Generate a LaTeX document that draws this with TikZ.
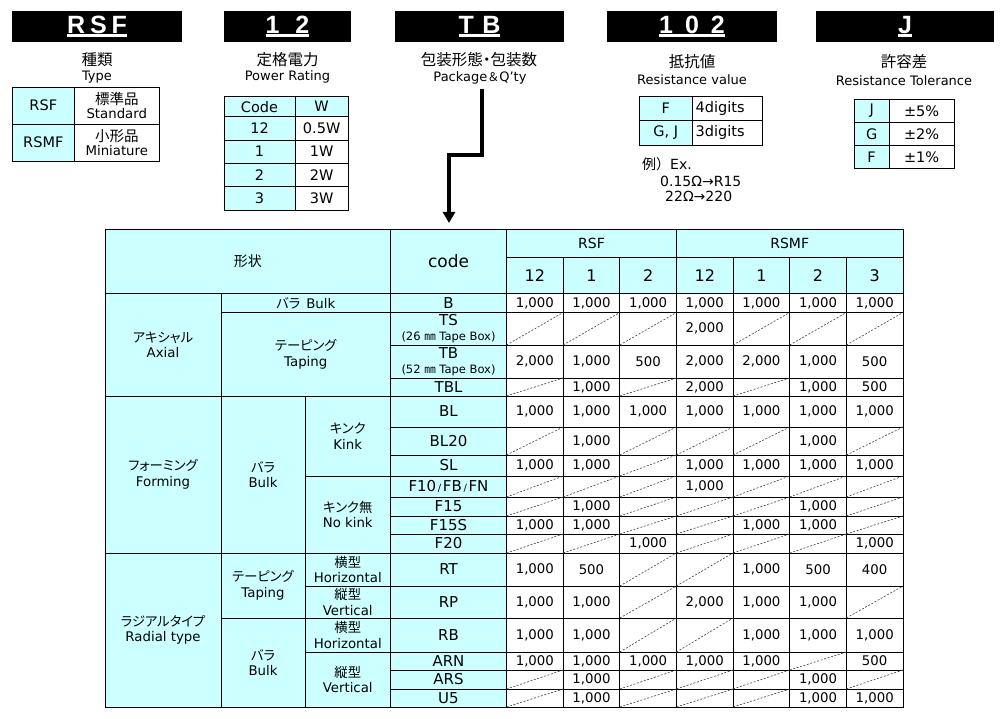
\documentclass[tikz,border=0pt]{standalone}
\usepackage{fontspec}
\setmainfont{DejaVu Sans}
\newfontfamily\jp[RawFeature=+palt]{Noto Sans CJK JP}
\newfontfamily\jpw{Noto Sans CJK JP}
\newfontfamily\hdf{Liberation Sans}
\usetikzlibrary{arrows.meta}
\definecolor{cyanfill}{HTML}{CCFFFF}
\newsavebox\ulbox
\newcommand\wul[1]{\sbox\ulbox{#1}\rlap{\raisebox{-3.2pt}{\rule{\wd\ulbox}{2.2pt}}}\usebox\ulbox}
\newcommand\fs[1]{\fontsize{#1}{#1}\selectfont}
\newcommand\fsl[1]{\fontsize{#1}{15.5}\selectfont}
\newcommand\numfmt[1]{\ifnum#1>999 \the\numexpr#1/1000\relax,000\else#1\fi}
\newcommand\Cell[8]{%
  \draw[gridline, fill=#2] (#3,#4) rectangle (#5,#6);
  \node[celltext, font=#7] (#1) at ({(#3+#5)/2},{(#4+#6)/2}) {#8};
}
\newcommand\DRow[4]{%
  \foreach \val [count=\col] in {#4}{%
    \pgfmathsetmacro\xa{506.5+(\col-1)*56.643}%
    \pgfmathsetmacro\xb{\xa+56.643}%
    \ifnum\val=0
      \draw[gridline, fill=white] (\xa,#2) rectangle (\xb,#3);
      \draw[diag] (\xa,#3) -- (\xb,#2);
    \else
      \Cell{d#1\col}{white}{\xa}{#2}{\xb}{#3}{\fs{13.3}}{\numfmt{\val}}
    \fi
  }%
}
\begin{document}
\begin{tikzpicture}[x=1pt,y=-1pt,
  gridline/.style={draw=black, line width=0.9pt},
  diag/.style={draw=black!75, line width=0.6pt, dash pattern=on 2pt off 1.6pt},
  celltext/.style={inner sep=0pt, align=center},
  hdbox/.style={fill=black, inner sep=0pt, minimum height=31pt, text height=18pt, text depth=4pt, text=white, font=\hdf\bfseries\fs{25}},
  lbljp/.style={inner sep=0pt, font=\jp\fs{15.5}},
  lblen/.style={inner sep=0pt, font=\fs{13}},
  extext/.style={inner sep=0pt, anchor=base west, font=\fs{14}},
  bigarrow/.style={line width=3.3pt, -{Triangle[width=12pt,length=11pt]}}]
\fill[white] (0,0) rectangle (1006,719);
\useasboundingbox (0,0) rectangle (1006,719);

% ---------- black header boxes ----------
\node[hdbox, minimum width=170pt] (bRSF) at (97,26.5) {\wul{R\hspace{5pt}S\hspace{5pt}F}};
\node[hdbox, minimum width=127pt] (b12) at (287.5,26.5) {\wul{1\hspace{16pt}2}};
\node[hdbox, minimum width=169pt] (bTB) at (479.5,26.5) {\wul{T\hspace{8.5pt}B}};
\node[hdbox, minimum width=170pt] (b102) at (692,26.5) {\wul{1\hspace{12pt}0\hspace{12pt}2}};
\node[hdbox, minimum width=178pt] (bJ) at (905,26.5) {\wul{J}};

% ---------- labels ----------
\node[lbljp] (lRSFj) at (97,60) {種類};
\node[lblen] (lRSFe) at (97,77) {Type};
\node[lbljp] (l12j) at (287.5,60) {定格電力};
\node[lblen] (l12e) at (287.5,77) {Power Rating};
\node[lbljp] (lTBj) at (479,60) {包装形態・包装数};
\node[lblen] (lTBe) at (480,78) {Package{\jpw\fs{12}＆}Q’ty};
\node[lbljp] (l102j) at (692,62) {抵抗値};
\node[lblen] (l102e) at (692,80) {Resistance value};
\node[lbljp] (lJj) at (904,62) {許容差};
\node[lblen] (lJe) at (904,81) {Resistance Tolerance};

% ---------- RSF type table ----------
\Cell{tRSF}{cyanfill}{12.3}{87.3}{74.3}{124}{\fs{14.5}}{RSF}
\Cell{tStd}{white}{74.3}{87.3}{159.3}{124}{\fontsize{13.3}{14.5}\selectfont}{{\jp\fs{14.5}標準品}\\Standard}
\Cell{tRSMF}{cyanfill}{12.3}{124}{74.3}{161}{\fs{14.5}}{RSMF}
\Cell{tMin}{white}{74.3}{124}{159.3}{161}{\fontsize{13.3}{14.5}\selectfont}{{\jp\fs{14.5}小形品}\\Miniature}

% ---------- power table ----------
\Cell{pCode}{cyanfill}{224}{96.7}{295}{116.7}{\fs{14.5}}{Code}
\Cell{pW}{cyanfill}{295}{96.7}{348.3}{116.7}{\fs{14.5}}{W}
\Cell{pa}{cyanfill}{224}{116.7}{295}{140}{\fs{14.5}}{12}
\Cell{pav}{white}{295}{116.7}{348.3}{140}{\fs{14.5}}{0.5W}
\Cell{pb}{cyanfill}{224}{140}{295}{163.3}{\fs{14.5}}{1}
\Cell{pbv}{white}{295}{140}{348.3}{163.3}{\fs{14.5}}{1W}
\Cell{pc}{cyanfill}{224}{163.3}{295}{186.7}{\fs{14.5}}{2}
\Cell{pcv}{white}{295}{163.3}{348.3}{186.7}{\fs{14.5}}{2W}
\Cell{pd}{cyanfill}{224}{186.7}{295}{210.7}{\fs{14.5}}{3}
\Cell{pdv}{white}{295}{186.7}{348.3}{210.7}{\fs{14.5}}{3W}

% ---------- resistance table ----------
\Cell{rF}{cyanfill}{639.3}{96}{692.3}{120.7}{\fs{14.5}}{F}
\draw[gridline, fill=white] (692.3,96) rectangle (762.7,120.7);
\node[inner sep=0pt, anchor=west, font=\fs{14.5}] (rFv) at (695.5,108.35) {4digits};
\Cell{rGJ}{cyanfill}{639.3}{120.7}{692.3}{145}{\fs{14.5}}{G, J}
\draw[gridline, fill=white] (692.3,120.7) rectangle (762.7,145);
\node[inner sep=0pt, anchor=west, font=\fs{14.5}] (rGJv) at (695.5,132.85) {3digits};

\node[extext] (exa) at (642,170) {{\jpw 例）}Ex.};
\node[extext] (exb) at (660,187) {0.15Ω→R15};
\node[extext] (exc) at (665,202) {22Ω→220};

% ---------- tolerance table ----------
\Cell{jJ}{cyanfill}{854}{99.3}{889.3}{122.7}{\fs{14.5}}{J}
\Cell{jJv}{white}{889.3}{99.3}{954}{122.7}{\fs{14.5}}{±5\%}
\Cell{jG}{cyanfill}{854}{122.7}{889.3}{145.7}{\fs{14.5}}{G}
\Cell{jGv}{white}{889.3}{122.7}{954}{145.7}{\fs{14.5}}{±2\%}
\Cell{jF}{cyanfill}{854}{145.7}{889.3}{168.3}{\fs{14.5}}{F}
\Cell{jFv}{white}{889.3}{145.7}{954}{168.3}{\fs{14.5}}{±1\%}

% ---------- arrow ----------
\coordinate (astart) at (482,89);
\coordinate (abend) at (449,155);
\coordinate (atip) at (449,223);
\draw[bigarrow] (astart) |- (abend) -- (atip);

% ---------- main table header ----------
\Cell{hShape}{cyanfill}{105}{229}{390.5}{293.5}{\jp\fs{14}}{形状}
\Cell{hCode}{cyanfill}{390.5}{229}{506.5}{293.5}{\fs{17}}{code}
\Cell{hRSF}{cyanfill}{506.5}{229}{676.43}{257}{\fs{14}}{RSF}
\Cell{hRSMF}{cyanfill}{676.43}{229}{903}{257}{\fs{14}}{RSMF}
\foreach \lab [count=\col] in {12,1,2,12,1,2,3}{%
  \pgfmathsetmacro\xa{506.5+(\col-1)*56.643}%
  \pgfmathsetmacro\xb{\xa+56.643}%
  \Cell{hs\col}{cyanfill}{\xa}{257}{\xb}{293.5}{\fs{16}}{\lab}
}

% ---------- left label columns ----------
\Cell{gAxial}{cyanfill}{105}{293.5}{221}{396}{\fsl{13.3}}{{\jp アキシャル}\\Axial}
\Cell{gAxBulk}{cyanfill}{221}{293.5}{390.5}{312.5}{\fs{13.3}}{{\jp バラ}\hspace{6pt}Bulk}
\Cell{gAxTap}{cyanfill}{221}{312.5}{390.5}{396}{\fsl{13.3}}{{\jp テーピング}\\Taping}
\Cell{gForm}{cyanfill}{105}{396}{221}{553}{\fsl{13.3}}{{\jp フォーミング}\\Forming}
\Cell{gFoBulk}{cyanfill}{221}{396}{305}{553}{\fsl{13.3}}{{\jp バラ}\\Bulk}
\Cell{gKink}{cyanfill}{305}{396}{390.5}{476}{\fsl{13.3}}{{\jp キンク}\\Kink}
\Cell{gNoKink}{cyanfill}{305}{476}{390.5}{553}{\fsl{13.3}}{{\jp キンク無}\\No kink}
\Cell{gRadial}{cyanfill}{105}{553}{221}{707}{\fsl{13.3}}{{\jp ラジアルタイプ}\\Radial type}
\Cell{gRaTap}{cyanfill}{221}{553}{305}{618}{\fsl{13.3}}{{\jp テーピング}\\Taping}
\Cell{gRTh}{cyanfill}{305}{553}{390.5}{586}{\fsl{13.3}}{{\jp 横型}\\Horizontal}
\Cell{gRTv}{cyanfill}{305}{586}{390.5}{618}{\fsl{13.3}}{{\jp 縦型}\\Vertical}
\Cell{gRaBulk}{cyanfill}{221}{618}{305}{707}{\fsl{13.3}}{{\jp バラ}\\Bulk}
\Cell{gRBh}{cyanfill}{305}{618}{390.5}{652}{\fsl{13.3}}{{\jp 横型}\\Horizontal}
\Cell{gRBv}{cyanfill}{305}{652}{390.5}{707}{\fsl{13.3}}{{\jp 縦型}\\Vertical}

% ---------- code column ----------
\Cell{cB}{cyanfill}{390.5}{293.5}{506.5}{312.5}{\fs{15}}{B}
\Cell{cTS}{cyanfill}{390.5}{312.5}{506.5}{345}{\fsl{15}}{TS\\{\fontsize{11.5}{15.5}\selectfont(26 {\jpw ㎜} Tape Box)}}
\Cell{cTB}{cyanfill}{390.5}{345}{506.5}{378}{\fsl{15}}{TB\\{\fontsize{11.5}{15.5}\selectfont(52 {\jpw ㎜} Tape Box)}}
\Cell{cTBL}{cyanfill}{390.5}{378}{506.5}{396}{\fs{15}}{TBL}
\Cell{cBL}{cyanfill}{390.5}{396}{506.5}{427}{\fs{15}}{BL}
\Cell{cBLt}{cyanfill}{390.5}{427}{506.5}{455}{\fs{15}}{BL20}
\Cell{cSL}{cyanfill}{390.5}{455}{506.5}{476}{\fs{15}}{SL}
\Cell{cFa}{cyanfill}{390.5}{476}{506.5}{497}{\fs{15}}{F10{\fs{10}\,/\,}FB{\fs{10}\,/\,}FN}
\Cell{cFb}{cyanfill}{390.5}{497}{506.5}{516}{\fs{15}}{F15}
\Cell{cFc}{cyanfill}{390.5}{516}{506.5}{534}{\fs{15}}{F15S}
\Cell{cFd}{cyanfill}{390.5}{534}{506.5}{553}{\fs{15}}{F20}
\Cell{cRT}{cyanfill}{390.5}{553}{506.5}{586}{\fs{15}}{RT}
\Cell{cRP}{cyanfill}{390.5}{586}{506.5}{618}{\fs{15}}{RP}
\Cell{cRB}{cyanfill}{390.5}{618}{506.5}{652}{\fs{15}}{RB}
\Cell{cARN}{cyanfill}{390.5}{652}{506.5}{670}{\fs{15}}{ARN}
\Cell{cARS}{cyanfill}{390.5}{670}{506.5}{689}{\fs{15}}{ARS}
\Cell{cU}{cyanfill}{390.5}{689}{506.5}{707}{\fs{15}}{U5}

% ---------- data ----------
\DRow{B}{293.5}{312.5}{1000,1000,1000,1000,1000,1000,1000}
\DRow{TS}{312.5}{345}{0,0,0,2000,0,0,0}
\DRow{TB}{345}{378}{2000,1000,500,2000,2000,1000,500}
\DRow{TBL}{378}{396}{0,1000,0,2000,0,1000,500}
\DRow{BL}{396}{427}{1000,1000,1000,1000,1000,1000,1000}
\DRow{BLt}{427}{455}{0,1000,0,0,0,1000,0}
\DRow{SL}{455}{476}{1000,1000,0,1000,1000,1000,1000}
\DRow{Fa}{476}{497}{0,0,0,1000,0,0,0}
\DRow{Fb}{497}{516}{0,1000,0,0,0,1000,0}
\DRow{Fc}{516}{534}{1000,1000,0,0,1000,1000,0}
\DRow{Fd}{534}{553}{0,0,1000,0,0,0,1000}
\DRow{RT}{553}{586}{1000,500,0,0,1000,500,400}
\DRow{RP}{586}{618}{1000,1000,0,2000,1000,1000,0}
\DRow{RB}{618}{652}{1000,1000,0,0,1000,1000,1000}
\DRow{ARN}{652}{670}{1000,1000,1000,1000,1000,0,500}
\DRow{ARS}{670}{689}{0,1000,0,0,0,1000,0}
\DRow{U}{689}{707}{0,1000,0,0,0,1000,1000}
\end{tikzpicture}
\end{document}
